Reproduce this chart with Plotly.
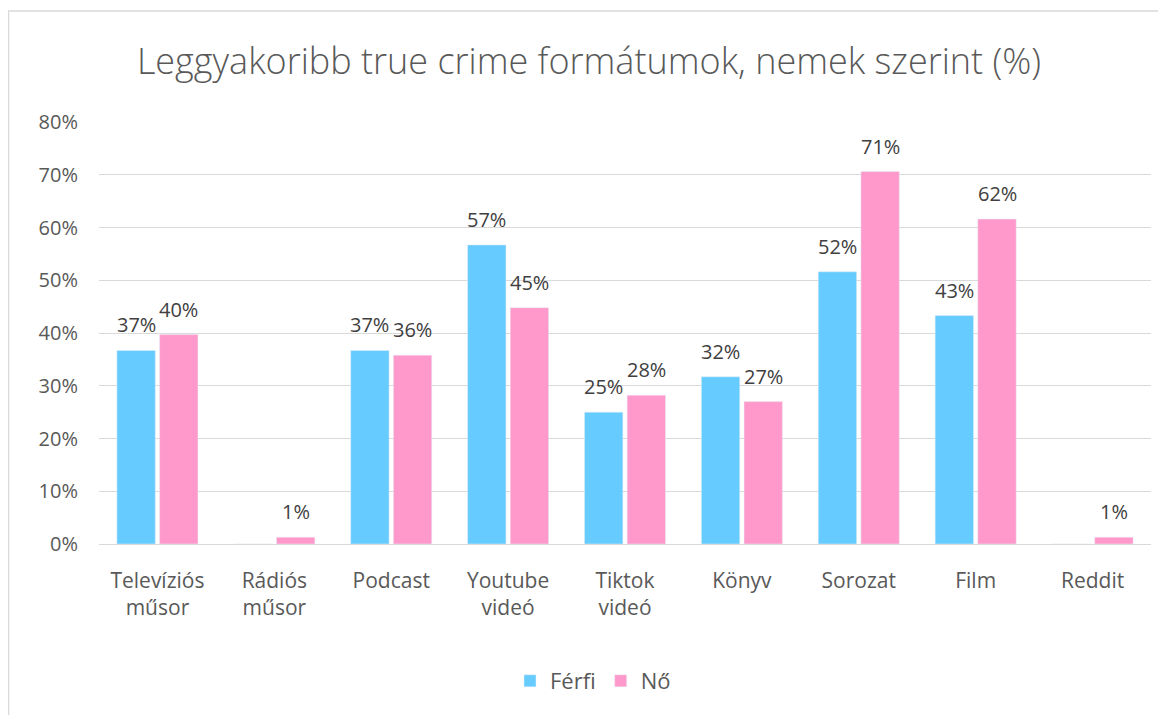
import plotly.graph_objects as go

categories = ["Televíziós<br>műsor", "Rádiós<br>műsor", "Podcast", "Youtube<br>videó",
              "Tiktok<br>videó", "Könyv", "Sorozat", "Film", "Reddit"]
ferfi = [36.7, 0, 36.7, 56.7, 25.0, 31.7, 51.6, 43.3, 0]
no = [39.7, 1.3, 35.8, 44.8, 28.2, 27.0, 70.6, 61.6, 1.3]
ytick_vals = [0, 10, 20, 30, 40, 50, 60, 70, 80]
ytick_text = [f"{v}%" for v in ytick_vals]

def labels(vals):
    return [f"{round(v)}%" if v > 0 else "" for v in vals]

FONT = "Segoe UI, Open Sans, sans-serif"
OFF = 8  # default page body margin

L, R, T, B = 99 - OFF, 1166 - 1151 + OFF, 122 - OFF, 715 - 544 + OFF
PW = 1166 - L - R
PH = 715 - T - B

fig = go.Figure()
fig.add_trace(go.Bar(name="Férfi", x=categories, y=ferfi, marker_color="#66CCFF"))
fig.add_trace(go.Bar(name="Nő", x=categories, y=no, marker_color="#FF99CC"))

bargap, bargroupgap = 0.27, 0.1
slot = PW / len(categories) * (1 - bargap) / 2
for vals, sign in ((ferfi, -1), (no, 1)):
    for c, v, t in zip(categories, vals, labels(vals)):
        if t:
            fig.add_annotation(x=c, y=v, xref="x", yref="y", text=t, showarrow=False,
                               xshift=sign * slot / 2, yanchor="bottom", yshift=10,
                               font=dict(size=20, color="#404040", family=FONT))

fig.update_layout(
    width=1166, height=715,
    margin=dict(l=L, r=R, t=T, b=B),
    paper_bgcolor="white", plot_bgcolor="white",
    barmode="group", bargap=bargap, bargroupgap=bargroupgap,
    font=dict(family=FONT, color="#595959", size=20),
    title=dict(text="Leggyakoribb true crime formátumok, nemek szerint (%)",
               x=(589 - OFF) / 1166, xanchor="center", y=1 - (61 - OFF) / 715, yanchor="middle",
               font=dict(size=36, color="#595959", family=FONT, weight=300)),
    legend=dict(orientation="h", x=(593 - OFF - L) / PW, xanchor="center",
                y=(544 - 681) / PH, yanchor="middle",
                font=dict(size=22, color="#595959"), itemwidth=30),
    showlegend=True,
)
fig.update_yaxes(range=[0, 80], tickvals=ytick_vals, ticktext=ytick_text,
                 showgrid=True, gridcolor="#d9d9d9", gridwidth=1,
                 zeroline=True, zerolinecolor="#d9d9d9", zerolinewidth=1,
                 showline=False, ticks="", ticklabelstandoff=20,
                 tickfont=dict(size=20, color="#595959"))
fig.update_xaxes(showgrid=False, showline=False, ticks="", ticklabelstandoff=22,
                 tickfont=dict(size=21, color="#595959"))
fig.add_shape(type="rect", xref="paper", yref="paper",
              x0=(8 - 99) / PW + 0.5 / PW, x1=1.05, y0=-0.6, y1=(544 - 11) / PH,
              line=dict(color="#d9d9d9", width=1.5), fillcolor="rgba(0,0,0,0)", layer="below")

fig.write_html("out.html")
